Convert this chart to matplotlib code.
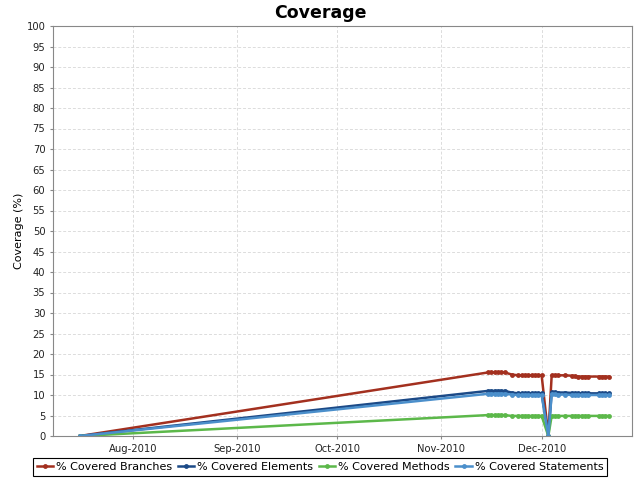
import matplotlib
matplotlib.use("Agg")
import matplotlib.pyplot as plt
import matplotlib.dates as mdates
from datetime import date

dates = [
    date(2010, 7, 16),
    date(2010, 11, 15), date(2010, 11, 16), date(2010, 11, 17), date(2010, 11, 18),
    date(2010, 11, 19), date(2010, 11, 20),
    date(2010, 11, 22),
    date(2010, 11, 24), date(2010, 11, 25), date(2010, 11, 26), date(2010, 11, 27),
    date(2010, 11, 28), date(2010, 11, 29), date(2010, 11, 30), date(2010, 12, 1),
    date(2010, 12, 3),
    date(2010, 12, 4), date(2010, 12, 5), date(2010, 12, 6),
    date(2010, 12, 8),
    date(2010, 12, 10), date(2010, 12, 11), date(2010, 12, 12), date(2010, 12, 13),
    date(2010, 12, 14), date(2010, 12, 15),
    date(2010, 12, 18), date(2010, 12, 19), date(2010, 12, 20), date(2010, 12, 21),
]

branches = [0,
            15.5, 15.5, 15.5, 15.5, 15.5, 15.5,
            15.0,
            14.8, 14.8, 14.8, 14.8, 14.8, 14.8, 14.8, 14.8,
            0,
            14.8, 14.8, 14.8,
            14.8,
            14.7, 14.6, 14.5, 14.5, 14.5, 14.5,
            14.5, 14.5, 14.5, 14.5]
elements = [0,
            11.0, 11.0, 11.0, 11.0, 11.0, 11.0,
            10.6,
            10.4, 10.4, 10.4, 10.4, 10.4, 10.4, 10.4, 10.4,
            0,
            10.7, 10.7, 10.6,
            10.6,
            10.5, 10.4, 10.4, 10.4, 10.4, 10.4,
            10.4, 10.4, 10.4, 10.4]
methods = [0,
           5.1, 5.1, 5.1, 5.1, 5.1, 5.1,
           4.9,
           4.9, 4.9, 4.9, 4.9, 4.9, 4.9, 4.9, 4.9,
           0,
           4.9, 4.9, 4.9,
           4.9,
           4.9, 4.9, 4.9, 4.9, 4.9, 4.9,
           4.9, 4.9, 4.9, 4.9]
statements = [0,
              10.3, 10.3, 10.3, 10.3, 10.3, 10.3,
              10.1,
              10.0, 10.0, 10.0, 10.0, 10.0, 10.0, 10.0, 10.0,
              0,
              10.2, 10.2, 10.1,
              10.1,
              10.0, 10.0, 10.0, 10.0, 10.0, 10.0,
              10.0, 10.0, 10.0, 10.0]

series = [
    ("% Covered Branches", branches, "#a3301f"),
    ("% Covered Elements", elements, "#1c4a87"),
    ("% Covered Methods", methods, "#5cb84a"),
    ("% Covered Statements", statements, "#4b8fcb"),
]

fig = plt.figure(figsize=(6.4, 4.8), dpi=100)
ax = fig.add_axes([53/640, 44/480, (632-53)/640, (436-26)/480])

for name, vals, col in series:
    ax.plot(dates, vals, color=col, lw=1.8, marker="o", ms=3.5,
            markeredgewidth=0, label=name)

ax.set_ylim(0, 100)
ax.set_yticks(range(0, 101, 5))
ax.set_xlim(date(2010, 7, 8), date(2010, 12, 28))
ax.xaxis.set_major_locator(mdates.MonthLocator())
ax.xaxis.set_major_formatter(mdates.DateFormatter("%b-%Y"))

ax.grid(True, color="#dcdcdc", linestyle=(0, (3, 2)), linewidth=0.7)
for s in ax.spines.values():
    s.set_color("#888888")
    s.set_linewidth(0.8)
ax.tick_params(axis="both", labelsize=7.2, colors="#888888", labelcolor="#222222",
               length=2, width=0.8)

ax.set_ylabel("Coverage (%)", fontsize=8, labelpad=2)
fig.text(0.5, 0.972, "Coverage", ha="center", va="center",
         fontsize=12.5, fontweight="bold")

leg = fig.legend(loc="center", bbox_to_anchor=(0.5, (480-467)/480),
                 ncol=4, fontsize=8, frameon=True, fancybox=False,
                 handlelength=1.5, handletextpad=0.25, columnspacing=0.5,
                 borderpad=0.35, borderaxespad=0, edgecolor="black", framealpha=1)
leg.get_frame().set_linewidth(0.8)

fig.savefig("out.png", dpi=100)
